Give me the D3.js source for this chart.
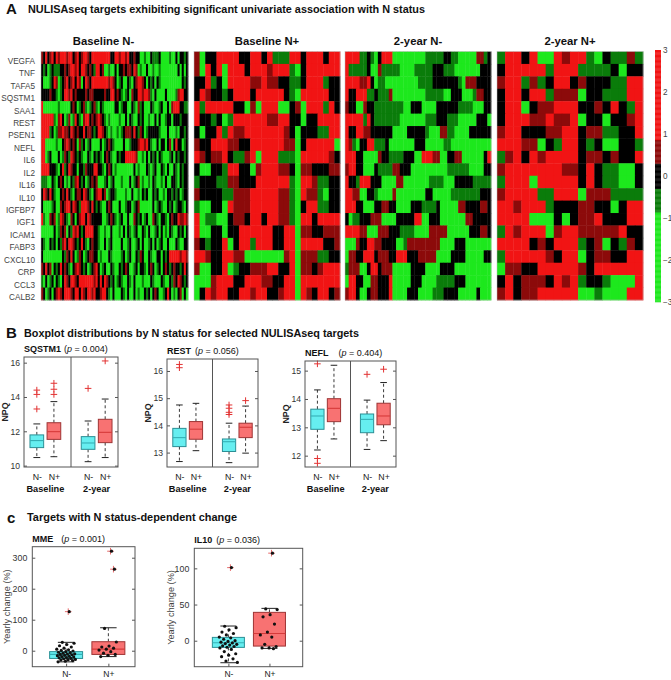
<!DOCTYPE html>
<html>
<head>
<meta charset="utf-8">
<script src="https://cdn.jsdelivr.net/npm/d3@7"></script>
<style>
  body { margin: 0; background: #fff; }
  text { font-family: "Liberation Sans", Arial, sans-serif; }
</style>
</head>
<body>
<svg id="fig" width="671" height="680"></svg>
<script>
// ---------- panel A data ----------
let genes = ["VEGFA","TNF","TAFA5","SQSTM1","SAA1","REST","PSEN1","NEFL","IL6","IL2",
             "IL16","IL10","IGFBP7","IGF1","ICAM1","FABP3","CXCL10","CRP","CCL3","CALB2"]
let groupNames = ["Baseline N-","Baseline N+","2-year N-","2-year N+"]
// one string per gene, one letter per sample: G=-2, g=-0.6, k=0, r=0.6, R=2 (z-score level)
let codeValue = { G: -2, g: -0.6, k: 0, r: 0.6, R: 2 }

let baselineNeg = [
  "rkRkrRkRr RRRrRRk rRkrRRrkR RRRRRRRR kk RRrRRrR kkrkk GGgGG kgggkG GGGgGGkG kkgk",
  "kgkGgk gggk krkr RRrRkRR rkrkg RRkr GGgGGkG kkrk rrkRr GgGGk GGgGGg GGGGGGGGk GkGk",
  "kGGGgkRr GgkrRk rRkRrG kRrkRR RRRRRRr RrkGgk GGkgGk rRRrkG kgkGkg GGGGGGGGG Gkgk",
  "kkkkrkk gGgkR RrRkr kkkkrk rrkkk kkrkkR Rkrkg GgkGrkk RRrRRr gGkGG GGkGGGGgr RRkk",
  "RGG GGGGGgGGGGGk rkGgkrg GgkrgGk gGGGGGk kGgkkG GkgGrgkG GGkgGGgk GGkGrR RRkkgg",
  "RRRRRRg GrRkGg rGgRkgG rRRkrkr RrkgGgG GGGgGGkG kgGGkgk GGgGGkGk GGgkkGk kkgkkk",
  "RRRRgk GgrrR rrkRrkrk kRkrrkgk RRrkgGg GGgGgkr rrkRkgr kGgkkkk kgGGGkG GGgGkkgk",
  "RRG GGGGgGGk rRrkrk GrgkGgk GGGGkGg krkgGG GGkGGgkk krRRrR kgGGkGk kGkrGk RkkGgk",
  "RRGgk GGGkGgr kgRrkgk gGGkgGk gkgGkrk gGGkgk kRRRRRr GGgGkGk gkGkgGG GgkGkg kkgk",
  "RRRRkk kgGkRg kRrkkGk kgrkkkR RkkgGkr kGgGGGG GGGGkGg GGGkgGg kGGkgGk GGkgGkgkk",
  "gggGGkg GkrkGgG kgrRkgk GgkrkrG GGgkGgk GGGgGGG kGgkrGg GGgGkgG GgGkGGk kgGkgkk",
  "kRrkRkg GGkrkRk gGkrrkR rkgGkrR RkrGgkk gGGGGgG GkGGgGk gkGGkgk GGgGkkg kgkGgkk",
  "kGGGGgk GGrkrRR kRrkgRR RrkRkgk gGGkrkG GGkGGgk kGgkrGG GGGGkGg kgGGkgk GgkkgGk",
  "RgGGrkr GgRrkgG rkGkrRR kRrkkkk kGGgkrk gGgkGGk GGrkgkG gkGGrkg GkkgGkr kkRrrRr",
  "GGGGGGk GgrkrGk gRrRkgk RRRRkkg GGgGGkG GGgGkGk gGgkGGk gGkGGgk GkGgGkg GGkgkGk",
  "kgGGkgk GkgrRkR RrkgkRk gGkrkkg GGkGgkG GGGkGGg kGGgkGk GGgkGkG gkGGkGG GkgGGkk",
  "kGGGGGG GGGkgrk RkGgrkG gkrrkkG gGGGkgG GGGgkGg kGGkgrk GGkgGGk kGkgkRR RRRrRRr",
  "rkRkrGk gkRkrkg GkrRrkg kGgkrRk GgkGGkg GGkgkrk GGgkGkk gGkrkGg kGkrkgk rkkgkRk",
  "gGkGgkG kgGkRrk RRrkRRR RRRRrRk RkRrkgk GgkgGGk gGkGGGg GGGkgGG GkgGGkg rkRrkgk",
  "rkGgkGk rRrkRRR rkRRkRr kRRrRkk rRRkgGk GGGkgGk GGkGgGG kgkGkrk GGgkRkG gGkrGkG"
]
let baselinePos = [
  "rGkkRRRRkkRRkRgggRRkRRRkRR",
  "rGRkRGRRRkRRRrRRRgGkRRRRRR",
  "kkRgkGRRRRrrRrrkkggkRRRgkk",
  "kRrkkgkRRRkRRRRRkgGRRRRRkk",
  "RgRRRRRkkGrGRRRGGkrGRRRgRk",
  "RkkgkGgRRRRRRrrRRkkGkkRRRR",
  "kGkkRgRrrRRRRRRRrkGkkkggRR",
  "rkkRRRrrkkRRRRRRrrGkRRRRRG",
  "RrkrrRkggrRGRRRgggGRRRRRrk",
  "kGGkkgRRkkGrRRRrrkGrrkkkrr",
  "gkkkggrrkkkRRRRRRgGRRrggkk",
  "rkkkkggrrrRRRRRrrgGRrrgGkk",
  "gGGkkGRrrrRRRRRrrgGkRRggkk",
  "RGggGGkrrkRRkRRrrgGRRkRRRR",
  "RGGkkGkkRRRRRRkkRRGrrkkrrr",
  "rkgkkRGkRRgRRRkkRRGRRRRkkr",
  "RRrkkRRrrGGGGGGGrRGrrrggkk",
  "rGGkkRGgkkrrrRRkkRGrrkrRRR",
  "GGGrRRRkkRRRrrkkRRGRRRRRRR",
  "GkRrRRkkRRrRRkkrRRGRrkRRkr"
]
let yearTwoNeg = [
  "RRRRggkgGkRRRGGGGGGGGGgggggkkggGGGGGrrgk",
  "RgggggkGGrgggggGGGGgggggkkkgggGGGGGGGkkk",
  "RRRRrrRkGggGGGGGGGGGggggkkkkkkkgGrrrkkkk",
  "RkkRRRggkgggrGGGGGGGGGgggggGGkkkGGGgrrkk",
  "rkkGGrkkggggggggGGkkkGGGGkkkkkkggggGGGkk",
  "RRRRRgRkgggggggGGGGGGGgggkkkgggGGGGGkkkG",
  "RkkRRrrkkkkkkGGGGkkkkkgGGGrrggGGGGkkkkkk",
  "RrgGkkRRgggkGGGGGGGkkkGGGGGggGGGGGGGGGGG",
  "RRRkkGGGGrkkggggkkkGGRRRrrGGkkrrGGGGGGkR",
  "rRRkkGGGkggggrrkkkGGGGGGGGGGggggggGGGGkk",
  "RkkgRRRkkkGGGGrrGGGGGGGggggGGGkkkkkggggg",
  "RRrrGGkkgGGGGrGGGGGGGGkkGGGGGggggggggkkk",
  "RRRkkGGGkkrrkkGGGGkkkggggkGGGGGrrkkkkrrk",
  "kGggkkkrrrGGGGkkkkkRRGGkkkGGGGGGGrrkkkkk",
  "RRRRrrGGGrrrkkkggggGGGGrrrrrGGGGGGkkkrrk",
  "GGGrkkRRrrkkkkGGgrrrrrrrrrGGGGkkkGGGGGGG",
  "GrrkkRRRkrrrkkRRRkkkrrrrrGGGGkkkkGGGGGkk",
  "grrrGGkRRkrrrGGGGGkkkkGGGGkkkkGGGGGGGGGG",
  "GRRkkGGrrkkkRGGGGGkkkGGGGgggggkkkGGGGGGG",
  "rRRkGGkrrkkkRGGGGkkkGGGGgggkkkkGGGGGkGGG"
]
let yearTwoPos = [
  "gRRkRGGRrRRgGkggrg",
  "kRRRRRgRRRggggkGkk",
  "rRRgrgkRRkrkkkggRR",
  "kRRkRRgrrrGkkgggRR",
  "kRRGkrrRRRkkrkRkgR",
  "kRRRrrRrrRGkkGkkrR",
  "rRRkkkrrRRkrrggkkR",
  "RRRrrGkgRRkgkGGkkg",
  "grRkRrRRRRkrrkrkkR",
  "rRRRRRRRrrkRkggGGk",
  "gRRRGRRRRRkRkggGGk",
  "rRRRRggRRRGrrrgggg",
  "RRrRRRgkkkrrkkGkRR",
  "RRRRGGGkGkrrRkkkRR",
  "gRrRRRGrRRrrrrrRkk",
  "RRRRkrkRRRgkrGkgrk",
  "gRRRRRrkRRGkrrkkRR",
  "GrrkkRRRRRrkRRRRRR",
  "kRkrrrkRrRgkkgGGGR",
  "rRkrrRRRRRGGgGGGRR"
]
let colorTicks = [3, 2, 1, 0, -1, -2, -3]

// ---------- panel B data ----------
let boxCats = ["N-", "N+", "N-", "N+"]
let boxTimes = ["Baseline", "2-year"]
// [lower whisker, q1, median, q3, upper whisker]
let sqstm1Stats = [[10.47, 11.05, 11.46, 11.79, 12.43], [10.52, 11.53, 11.98, 12.5, 13.73],
                   [10.23, 10.95, 11.32, 11.69, 12.6], [10.47, 11.34, 11.94, 12.7, 13.88]]
let sqstm1Out = [[14.4, 14.15, 13.3], [14.8, 14.45, 14.15], [14.5], [16.1]]
let sqstm1Ticks = [10, 12, 14, 16]
let restStats = [[12.67, 13.22, 13.55, 13.89, 14.75], [13.07, 13.49, 13.86, 14.14, 14.81],
                 [12.63, 13.04, 13.4, 13.5, 14.08], [12.98, 13.55, 13.93, 14.08, 14.71]]
let restOut = [[16.24, 16.12], [], [14.75, 14.63, 14.48, 14.4], [14.91]]
let restTicks = [13, 14, 15, 16]
let neflStats = [[12.2, 12.93, 13.4, 13.64, 14.32], [12.59, 13.2, 13.67, 14.01, 15.19],
                 [12.22, 12.81, 13.28, 13.47, 13.96], [12.53, 13.09, 13.4, 13.85, 14.58]]
let neflOut = [[15.24, 11.9, 11.73], [], [14.87], [15.05]]
let neflTicks = [12, 13, 14, 15]

// ---------- panel C data ----------
let changeCats = ["N-", "N+"]
let mmeStats = [[-36, -25, -12, -3, 27], [-19, -12, 5, 29, 74]]
let mmeOut = [[126], [321, 263]]
let mmeNegPts = [27, 24, 20, 16, 12, 8, 5, 3, 1, -1, -3, -5, -6, -8, -10, -11, -12, -13, -15, -16,
                 -18, -19, -20, -22, -23, -25, -26, -28, -29, -30, -32, -34, -36]
let mmePosPts = [72, 28, 15, 12, 8, 5, 2, -3, -8, -12, -15, -19]
let mmeTicks = [0, 100, 200, 300]
let il10Stats = [[-30.4, -9.2, -2.8, 4.6, 20.3], [-10.6, -7.4, 10, 39.2, 44.7]]
let il10Out = [[101], [121]]
let il10NegPts = [20, 18, 15, 12, 10, 8, 5, 4, 2, 0, -1, -2, -3, -4, -5, -6, -7, -8, -9, -10,
                  -12, -15, -18, -20, -22, -25, -28, -30]
let il10PosPts = [44, 43, 36, 33, 23, 12, 8, 5, -5, -8, -10, -10, -11]
let il10Ticks = [0, 50, 100]

// ---------- drawing ----------
let svg = d3.select("#fig")
svg.append("rect").attr("width", 671).attr("height", 680).attr("fill", "#fff")

let headFont = "Roboto, 'Liberation Sans', sans-serif"
let tickFont = "'Liberation Sans', Arial, sans-serif"
let intFmt = d3.format("d")
let cyanFill = "#66eef0", cyanLine = "#2b8f95", cyanMed = "#35b0b6"
let redFill = "#f87272", redLine = "#9e3434", redMed = "#d63a3a"

let heading = (letter, lx, text, tx, y, len) => {
    svg.append("text").attr("x", lx).attr("y", y + 1.5)
       .attr("font-family", headFont).attr("font-weight", "bold").attr("font-size", 15)
       .attr("fill", "#111").text(letter)
    svg.append("text").attr("x", tx).attr("y", y)
       .attr("font-family", headFont).attr("font-weight", "bold").attr("font-size", 10.6)
       .attr("fill", "#111").attr("textLength", len).attr("lengthAdjust", "spacingAndGlyphs")
       .text(text)
}

heading("A", 6, "NULISAseq targets exhibiting significant univariate association with N status", 28, 12.5, 397)
heading("B", 6, "Boxplot distributions by N status for selected NULISAseq targets", 24, 336.5, 335)
heading("c", 7, "Targets with N status-dependent change", 27, 521, 210)

// heatmap
let colorOf = d3.scaleThreshold()
                .domain([-0.85, -0.3, 0.3, 0.85])
                .range(["#1de81d", "#0a7c0a", "#000000", "#8c0a0a", "#f11414"])
let rowScale = d3.scaleBand().domain(genes).range([51.5, 300])

let heatLayout = [
    { rows: baselineNeg, x0: 41, x1: 188, shift: -11 },
    { rows: baselinePos, x0: 194, x1: 340, shift: 0 },
    { rows: yearTwoNeg, x0: 345, x1: 491, shift: 0 },
    { rows: yearTwoPos, x0: 497, x1: 643, shift: 0 }
]

heatLayout.forEach((panel, pi) => {
    let lines = panel.rows.map(r => r.replace(/\s/g, ""))
    let ncol = d3.max(lines, r => r.length)
    let colScale = d3.scaleBand().domain(d3.range(ncol)).range([panel.x0, panel.x1])
    let cells = []
    lines.forEach((r, ri) => {
        r.split("").forEach((ch, ci) => {
            cells.push({ gene: genes[ri], col: ci, value: codeValue[ch] })
        })
    })
    svg.append("g")
       .selectAll("rect")
       .data(cells)
       .enter()
       .append("rect")
       .attr("x", d => colScale(d.col))
       .attr("y", d => rowScale(d.gene))
       .attr("width", colScale.bandwidth() + 0.4)
       .attr("height", rowScale.bandwidth() + 0.4)
       .attr("fill", d => colorOf(d.value))

    svg.append("rect")
       .attr("x", panel.x0).attr("y", 51.5)
       .attr("width", panel.x1 - panel.x0).attr("height", 248.5)
       .attr("fill", "none").attr("stroke", "#bbb").attr("stroke-width", 0.5)

    svg.append("text")
       .attr("x", (panel.x0 + panel.x1) / 2 + panel.shift)
       .attr("y", 44.5)
       .attr("text-anchor", "middle")
       .attr("font-family", headFont).attr("font-weight", "bold").attr("font-size", 11.3)
       .attr("fill", "#111")
       .text(groupNames[pi])
})

svg.append("g")
   .selectAll("text")
   .data(genes)
   .enter()
   .append("text")
   .attr("x", 35)
   .attr("y", d => rowScale(d) + rowScale.bandwidth() / 2 + 6.2)
   .attr("text-anchor", "end")
   .attr("font-size", 8.2)
   .attr("fill", "#444")
   .text(d => d)

// colour bar
let cbScale = d3.scaleLinear().domain([-3, 3]).range([302, 50])
let cbSteps = d3.range(-3, 3, 0.02)
svg.append("g")
   .selectAll("rect")
   .data(cbSteps)
   .enter()
   .append("rect")
   .attr("x", 655)
   .attr("width", 6)
   .attr("y", d => cbScale(d + 0.02))
   .attr("height", d => cbScale(d) - cbScale(d + 0.02) + 0.3)
   .attr("fill", d => colorOf(d + 0.01))
let cbAxis = svg.append("g")
   .attr("transform", "translate(661,0)")
   .call(d3.axisRight(cbScale).tickValues(colorTicks).tickSize(0).tickPadding(2).tickFormat(intFmt))
cbAxis.select(".domain").remove()
cbAxis.selectAll("text").attr("font-size", 8.2).attr("fill", "#444").attr("font-family", tickFont)

// generic box drawing
let plusPath = (cx, cy, s) => `M${cx - s},${cy}H${cx + s}M${cx},${cy - s}V${cy + s}`

let drawBox = (g, x, y, pos, st, halfW, fill, line, med) => {
    let cx = x(pos)
    let w = x(pos + halfW) - cx
    g.append("line").attr("x1", cx).attr("x2", cx).attr("y1", y(st[3])).attr("y2", y(st[4]))
     .attr("stroke", "#222").attr("stroke-width", 0.9).attr("stroke-dasharray", "3,2.5")
    g.append("line").attr("x1", cx).attr("x2", cx).attr("y1", y(st[1])).attr("y2", y(st[0]))
     .attr("stroke", "#222").attr("stroke-width", 0.9).attr("stroke-dasharray", "3,2.5")
    ;[st[0], st[4]].forEach(v => {
        g.append("line").attr("x1", cx - w / 2).attr("x2", cx + w / 2)
         .attr("y1", y(v)).attr("y2", y(v))
         .attr("stroke", "#222").attr("stroke-width", 1)
    })
    g.append("rect").attr("x", cx - w).attr("width", 2 * w)
     .attr("y", y(st[3])).attr("height", y(st[1]) - y(st[3]))
     .attr("fill", fill).attr("stroke", line).attr("stroke-width", 1)
    g.append("line").attr("x1", cx - w).attr("x2", cx + w)
     .attr("y1", y(st[2])).attr("y2", y(st[2]))
     .attr("stroke", med).attr("stroke-width", 1.1)
}

let pTitle = (g, x, y, name, pval, gap) => {
    let t = g.append("text").attr("x", x).attr("y", y).attr("font-size", 9).attr("fill", "#111")
    t.append("tspan").attr("font-weight", "bold").text(name)
    t.append("tspan").attr("dx", gap).text("(")
    t.append("tspan").attr("font-style", "italic").text("p")
    t.append("tspan").text(" = " + pval + ")")
}

let styleAxis = (sel, size) => {
    sel.select(".domain").remove()
    sel.selectAll("line").attr("stroke", "#555")
    sel.selectAll("text").attr("font-size", size).attr("fill", "#333").attr("font-family", tickFont)
}

// panel B
let bPanels = [
    { name: "SQSTM1", p: "0.004", stats: sqstm1Stats, outs: sqstm1Out, ticks: sqstm1Ticks,
      x0: 24, x1: 118, top: 357, dom: [9.92, 16.33], gap: 3 },
    { name: "REST", p: "0.056", stats: restStats, outs: restOut, ticks: restTicks,
      x0: 167, x1: 258, top: 359, dom: [12.47, 16.44], gap: 4 },
    { name: "NEFL", p: "0.404", stats: neflStats, outs: neflOut, ticks: neflTicks,
      x0: 305, x1: 396, top: 361, dom: [11.6, 15.34], gap: 10 }
]
let bBottom = 467
let catPos = [1, 2, 4, 5]

bPanels.forEach(pan => {
    let g = svg.append("g")
    let x = d3.scaleLinear().domain([0.25, 5.75]).range([pan.x0, pan.x1])
    let y = d3.scaleLinear().domain(pan.dom).range([bBottom, pan.top])

    styleAxis(g.append("g").attr("transform", `translate(${pan.x0},0)`)
               .call(d3.axisLeft(y).tickValues(pan.ticks).tickSize(-3).tickPadding(4).tickFormat(intFmt)), 8.6)
    styleAxis(g.append("g").attr("transform", `translate(${pan.x1},0)`)
               .call(d3.axisRight(y).tickValues(pan.ticks).tickSize(-3).tickFormat("")), 8.6)
    let xa = g.append("g").attr("transform", `translate(0,${bBottom})`)
              .call(d3.axisBottom(x).tickValues(catPos).tickSize(0).tickPadding(7)
                      .tickFormat((d, i) => boxCats[i]))
    styleAxis(xa, 8.8)
    xa.selectAll("text").attr("fill", "#222")

    boxTimes.forEach((t, i) => {
        g.append("text").attr("x", x(1.5 + 3 * i)).attr("y", 492)
         .attr("text-anchor", "middle").attr("font-weight", "bold").attr("font-size", 9.2)
         .attr("fill", "#111").text(t)
    })

    g.append("line").attr("x1", x(3)).attr("x2", x(3)).attr("y1", pan.top).attr("y2", bBottom)
     .attr("stroke", "#555").attr("stroke-width", 1)

    pan.stats.forEach((st, i) => {
        let isNeg = i % 2 == 0
        drawBox(g, x, y, catPos[i], st, 0.4,
                isNeg ? cyanFill : redFill, isNeg ? cyanLine : redLine, isNeg ? cyanMed : redMed)
        pan.outs[i].forEach(v => {
            g.append("path").attr("d", plusPath(x(catPos[i]), y(v), 3.3))
             .attr("stroke", "#e23232").attr("stroke-width", 1).attr("fill", "none")
        })
    })

    g.append("rect").attr("x", pan.x0).attr("y", pan.top)
     .attr("width", pan.x1 - pan.x0).attr("height", bBottom - pan.top)
     .attr("fill", "none").attr("stroke", "#555").attr("stroke-width", 1)

    pTitle(g, pan.x0, pan.top - 5, pan.name, pan.p, pan.gap)

    g.append("text")
     .attr("transform", `translate(${pan.x0 - 16},${(pan.top + bBottom) / 2}) rotate(-90)`)
     .attr("text-anchor", "middle").attr("font-weight", "bold").attr("font-size", 8.8)
     .attr("fill", "#222").text("NPQ")
})

// panel C
let cPanels = [
    { name: "MME", p: "0.001", stats: mmeStats, outs: mmeOut, pts: [mmeNegPts, mmePosPts],
      ticks: mmeTicks, x0: 32.3, x1: 135, top: 546.7, dom: [-51.6, 335.5], xd: [0.2, 2.63],
      gap: 8, labelX: 7 },
    { name: "IL10", p: "0.036", stats: il10Stats, outs: il10Out, pts: [il10NegPts, il10PosPts],
      ticks: il10Ticks, x0: 194.3, x1: 302.7, top: 548.3, dom: [-35.9, 127.7], xd: [0.17, 2.81],
      gap: 4, labelX: 171 }
]
let cBottom = 666.7

cPanels.forEach(pan => {
    let g = svg.append("g")
    let x = d3.scaleLinear().domain(pan.xd).range([pan.x0, pan.x1])
    let y = d3.scaleLinear().domain(pan.dom).range([cBottom, pan.top])

    styleAxis(g.append("g").attr("transform", `translate(${pan.x0},0)`)
               .call(d3.axisLeft(y).tickValues(pan.ticks).tickSize(-3).tickPadding(5).tickFormat(intFmt)), 8.8)
    styleAxis(g.append("g").attr("transform", `translate(${pan.x1},0)`)
               .call(d3.axisRight(y).tickValues(pan.ticks).tickSize(-3).tickFormat("")), 8.8)
    let xa = g.append("g").attr("transform", `translate(0,${cBottom})`)
              .call(d3.axisBottom(x).tickValues([1, 2]).tickSize(-3).tickPadding(4)
                      .tickFormat((d, i) => changeCats[i]))
    styleAxis(xa, 8.5)
    xa.selectAll("text").attr("fill", "#222")

    pan.stats.forEach((st, i) => {
        let isNeg = i == 0
        drawBox(g, x, y, i + 1, st, 0.39,
                isNeg ? cyanFill : redFill, isNeg ? cyanLine : redLine, isNeg ? cyanMed : redMed)
    })

    // sample points, spread sideways by a golden-ratio sequence over the index
    pan.pts.forEach((vals, i) => {
        g.append("g")
         .selectAll("circle")
         .data(vals)
         .enter()
         .append("circle")
         .attr("cx", (d, k) => x(i + 1 + (((k * 0.618034 + 0.3) % 1) - 0.5) * 0.45))
         .attr("cy", d => y(d))
         .attr("r", 1.6)
         .attr("fill", "#111")
    })

    pan.outs.forEach((vals, i) => {
        vals.forEach((v, k) => {
            let cx = x(i + 1 + (k % 2 ? 0.12 : 0.05))
            g.append("path").attr("d", plusPath(cx, y(v), 3.3))
             .attr("stroke", "#e86a6a").attr("stroke-width", 1).attr("fill", "none")
            g.append("circle").attr("cx", cx + 1).attr("cy", y(v)).attr("r", 1.6).attr("fill", "#111")
        })
    })

    g.append("rect").attr("x", pan.x0).attr("y", pan.top)
     .attr("width", pan.x1 - pan.x0).attr("height", cBottom - pan.top)
     .attr("fill", "none").attr("stroke", "#555").attr("stroke-width", 1)

    pTitle(g, pan.x0, pan.top - 5, pan.name, pan.p, pan.gap)

    g.append("text")
     .attr("transform", `translate(${pan.labelX + 3},${(pan.top + cBottom) / 2}) rotate(-90)`)
     .attr("text-anchor", "middle").attr("font-size", 9.2)
     .attr("fill", "#444").text("Yearly change (%)")
})
</script>
</body>
</html>
